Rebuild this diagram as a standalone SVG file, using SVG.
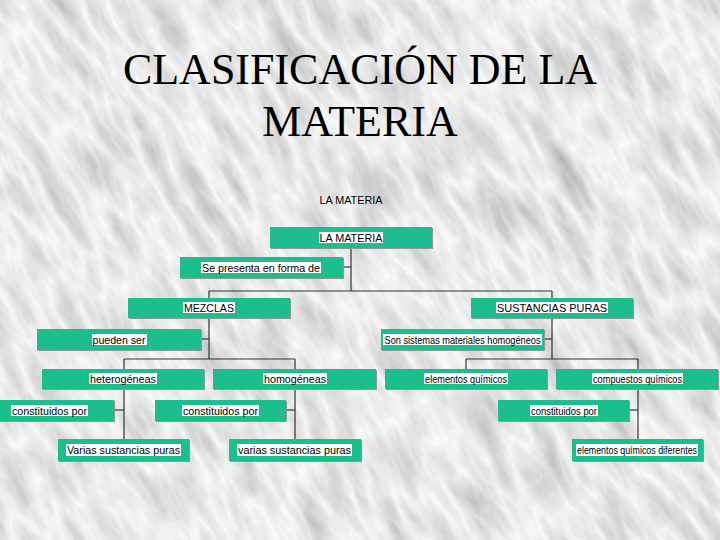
<svg xmlns="http://www.w3.org/2000/svg" width="720" height="540" viewBox="0 0 720 540">
<defs>
<filter id="marble" x="0" y="0" width="1" height="1">
<feTurbulence type="turbulence" baseFrequency="0.04 0.012" numOctaves="5" seed="7" result="t"/>
<feColorMatrix in="t" type="matrix" values="-0.55 0 0 0 0.98  -0.55 0 0 0 0.98  -0.55 0 0 0 0.98  0 0 0 0 1"/>
</filter>
<style>
.box{fill:#1bbe8c}
.sh{fill:#8c9a95}
.bg{fill:#ffffff}
.t{font-family:"Liberation Sans",Arial,sans-serif;font-size:11px;fill:#000;text-anchor:middle}
.title{font-family:"Liberation Serif","Times New Roman",serif;font-size:44px;fill:#000;text-anchor:middle}
#connectors line{stroke:#333;stroke-width:1.2}
</style>
</defs>
<rect width="720" height="540" fill="#e2e2e2"/>
<g transform="rotate(-30 360 270)">
<rect x="-220" y="-220" width="1160" height="980" filter="url(#marble)"/>
</g>
<g id="title">
<text class="title" x="360" y="84">CLASIFICACIÓN DE LA</text>
<text class="title" x="360" y="136">MATERIA</text>
</g>
<text class="t" x="351" y="204" textLength="63" lengthAdjust="spacingAndGlyphs">LA MATERIA</text>
<g id="connectors">
<line x1="351" y1="248" x2="351" y2="291"/>
<line x1="343" y1="267" x2="351" y2="267"/>
<line x1="209" y1="291" x2="552" y2="291"/>
<line x1="209" y1="291" x2="209" y2="298"/>
<line x1="552" y1="291" x2="552" y2="298"/>
<line x1="209" y1="318" x2="209" y2="359"/>
<line x1="201" y1="339" x2="209" y2="339"/>
<line x1="124" y1="359" x2="295" y2="359"/>
<line x1="124" y1="359" x2="124" y2="369"/>
<line x1="295" y1="359" x2="295" y2="369"/>
<line x1="552" y1="318" x2="552" y2="359"/>
<line x1="544" y1="339" x2="552" y2="339"/>
<line x1="466" y1="359" x2="638" y2="359"/>
<line x1="466" y1="359" x2="466" y2="369"/>
<line x1="638" y1="359" x2="638" y2="369"/>
<line x1="124" y1="389" x2="124" y2="439"/>
<line x1="114" y1="410" x2="124" y2="410"/>
<line x1="295" y1="389" x2="295" y2="439"/>
<line x1="286" y1="410" x2="295" y2="410"/>
<line x1="638" y1="389" x2="638" y2="439"/>
<line x1="629" y1="410" x2="638" y2="410"/>
</g>
<g id="n1"><rect class="sh" x="271" y="228" width="162" height="21"/><rect class="box" x="270" y="227" width="162" height="21"/><rect class="bg" x="319" y="232" width="64" height="11"/><text class="t" x="351" y="242" textLength="63" lengthAdjust="spacingAndGlyphs">LA MATERIA</text></g>
<g id="n2"><rect class="sh" x="181" y="258" width="163" height="21"/><rect class="box" x="180" y="257" width="163" height="21"/><rect class="bg" x="201" y="262" width="120" height="11"/><text class="t" x="261" y="272" textLength="118" lengthAdjust="spacingAndGlyphs">Se presenta en forma de</text></g>
<g id="n3"><rect class="sh" x="129" y="299" width="162" height="20"/><rect class="box" x="128" y="298" width="162" height="20"/><rect class="bg" x="183" y="302" width="52" height="11"/><text class="t" x="209" y="312" textLength="50" lengthAdjust="spacingAndGlyphs">MEZCLAS</text></g>
<g id="n4"><rect class="sh" x="472" y="299" width="162" height="20"/><rect class="box" x="471" y="298" width="162" height="20"/><rect class="bg" x="496" y="302" width="112" height="11"/><text class="t" x="552" y="312" textLength="110" lengthAdjust="spacingAndGlyphs">SUSTANCIAS PURAS</text></g>
<g id="n5"><rect class="sh" x="38" y="330" width="164" height="21"/><rect class="box" x="37" y="329" width="164" height="21"/><rect class="bg" x="92" y="334" width="55" height="11"/><text class="t" x="119" y="344" textLength="53" lengthAdjust="spacingAndGlyphs">pueden ser</text></g>
<g id="n6"><rect class="sh" x="382" y="330" width="163" height="21"/><rect class="box" x="381" y="329" width="163" height="21"/><rect class="bg" x="383" y="334" width="159" height="11"/><text class="t" x="462.5" y="344" textLength="156" lengthAdjust="spacingAndGlyphs">Son sistemas materiales homogéneos</text></g>
<g id="n7"><rect class="sh" x="43" y="370" width="162" height="20"/><rect class="box" x="42" y="369" width="162" height="20"/><rect class="bg" x="89" y="373" width="68" height="11"/><text class="t" x="123" y="383" textLength="66" lengthAdjust="spacingAndGlyphs">heterogéneas</text></g>
<g id="n8"><rect class="sh" x="214" y="370" width="163" height="20"/><rect class="box" x="213" y="369" width="163" height="20"/><rect class="bg" x="263" y="373" width="64" height="11"/><text class="t" x="295" y="383" textLength="62" lengthAdjust="spacingAndGlyphs">homogéneas</text></g>
<g id="n9"><rect class="sh" x="386" y="370" width="162" height="20"/><rect class="box" x="385" y="369" width="162" height="20"/><rect class="bg" x="424" y="373" width="84" height="11"/><text class="t" x="466" y="383" textLength="82" lengthAdjust="spacingAndGlyphs">elementos químicos</text></g>
<g id="n10"><rect class="sh" x="557" y="370" width="162" height="20"/><rect class="box" x="556" y="369" width="162" height="20"/><rect class="bg" x="592" y="373" width="91" height="11"/><text class="t" x="637.5" y="383" textLength="89" lengthAdjust="spacingAndGlyphs">compuestos químicos</text></g>
<g id="n11"><rect class="sh" x="-15" y="401" width="130" height="21"/><rect class="box" x="-16" y="400" width="130" height="21"/><rect class="bg" x="11" y="405" width="77" height="11"/><text class="t" x="49.5" y="415" textLength="75" lengthAdjust="spacingAndGlyphs">constituidos por</text></g>
<g id="n12"><rect class="sh" x="156" y="401" width="131" height="21"/><rect class="box" x="155" y="400" width="131" height="21"/><rect class="bg" x="182" y="405" width="77" height="11"/><text class="t" x="220.5" y="415" textLength="75" lengthAdjust="spacingAndGlyphs">constituidos por</text></g>
<g id="n13"><rect class="sh" x="499" y="401" width="131" height="21"/><rect class="box" x="498" y="400" width="131" height="21"/><rect class="bg" x="530" y="405" width="68" height="11"/><text class="t" x="564" y="415" textLength="66" lengthAdjust="spacingAndGlyphs">constituidos por</text></g>
<g id="n14"><rect class="sh" x="59" y="440" width="131" height="22"/><rect class="box" x="58" y="439" width="131" height="22"/><rect class="bg" x="66" y="444" width="115" height="12"/><text class="t" x="123.5" y="454" textLength="113" lengthAdjust="spacingAndGlyphs">Varias sustancias puras</text></g>
<g id="n15"><rect class="sh" x="230" y="440" width="132" height="22"/><rect class="box" x="229" y="439" width="132" height="22"/><rect class="bg" x="237" y="444" width="115" height="12"/><text class="t" x="294.5" y="454" textLength="113" lengthAdjust="spacingAndGlyphs">varias sustancias puras</text></g>
<g id="n16"><rect class="sh" x="573" y="440" width="131" height="22"/><rect class="box" x="572" y="439" width="131" height="22"/><rect class="bg" x="576" y="444" width="122" height="12"/><text class="t" x="637" y="454" font-size="10.5" textLength="120" lengthAdjust="spacingAndGlyphs">elementos químicos diferentes</text></g>
</svg>
